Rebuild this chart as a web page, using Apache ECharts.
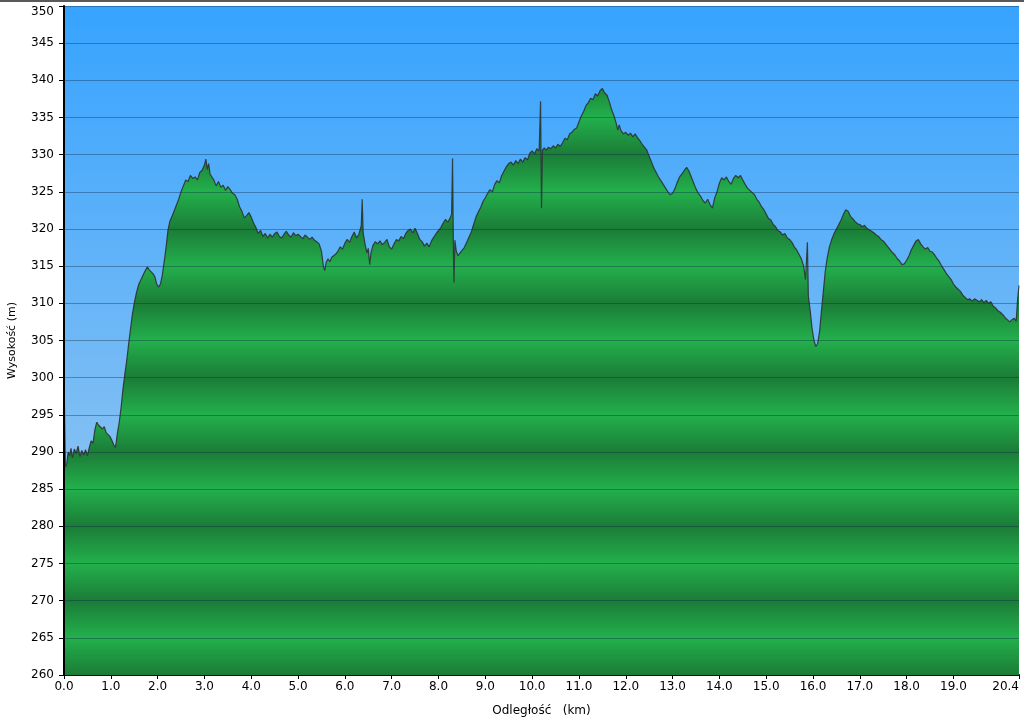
<!DOCTYPE html>
<html>
<head>
<meta charset="utf-8">
<script src="https://cdn.jsdelivr.net/npm/echarts@6/dist/echarts.min.js"></script>
<style>
html,body{margin:0;padding:0;background:#fff;}
#chart{width:1024px;height:722px;}
</style>
</head>
<body>
<div id="chart"></div>
<script>
// distance along the route (km)
const distKm = [
0.00,0.01,0.03,0.06,0.09,0.12,0.15,0.18,0.22,0.26,0.30,0.34,0.38,0.42,0.46,0.50,0.54,0.58,0.62,0.66,0.70,0.74,0.78,0.82,0.86,0.90,0.94,0.98,
1.02,1.06,1.10,1.14,1.18,1.22,1.26,1.30,1.34,1.38,1.42,1.46,1.50,1.55,1.60,1.66,1.72,1.78,1.82,1.86,1.90,1.94,1.98,
2.02,2.06,2.10,2.14,2.18,2.22,2.26,2.30,2.35,2.40,2.45,2.50,2.55,2.60,2.65,2.70,2.75,2.80,2.85,2.90,2.95,
3.00,3.03,3.06,3.09,3.12,3.16,3.20,3.25,3.30,3.35,3.40,3.45,3.50,3.55,3.60,3.65,3.70,3.75,3.80,3.85,3.90,3.95,
4.00,4.05,4.10,4.15,4.20,4.25,4.30,4.35,4.40,4.45,4.50,4.55,4.60,4.65,4.70,4.75,4.80,4.85,4.90,4.95,
5.00,5.05,5.10,5.15,5.20,5.25,5.30,5.35,5.40,5.45,5.50,5.54,5.57,5.60,5.64,5.68,5.72,5.76,5.80,5.85,5.90,5.95,
6.00,6.05,6.10,6.15,6.20,6.25,6.30,6.35,6.37,6.39,6.43,6.47,6.50,6.53,6.56,6.60,6.65,6.70,6.75,6.80,6.85,6.90,6.95,
7.00,7.05,7.10,7.15,7.20,7.25,7.30,7.35,7.40,7.45,7.50,7.55,7.60,7.65,7.70,7.75,7.80,7.85,7.90,7.95,
8.00,8.05,8.10,8.15,8.20,8.25,8.28,8.30,8.32,8.33,8.35,8.38,8.42,8.46,8.50,8.55,8.60,8.65,8.70,8.75,8.80,8.85,8.90,8.95,
9.00,9.05,9.10,9.15,9.20,9.25,9.30,9.35,9.40,9.45,9.50,9.55,9.60,9.65,9.70,9.75,9.80,9.85,9.90,9.95,
10.00,10.05,10.10,10.15,10.18,10.20,10.22,10.26,10.30,10.35,10.40,10.45,10.50,10.55,10.60,10.65,10.70,10.75,10.80,10.85,10.90,10.95,
11.00,11.05,11.10,11.15,11.20,11.25,11.30,11.35,11.40,11.45,11.50,11.55,11.60,11.65,11.70,11.75,11.80,11.83,11.86,11.90,11.95,
12.00,12.05,12.10,12.15,12.20,12.25,12.30,12.35,12.40,12.45,12.50,12.55,12.60,12.65,12.70,12.75,12.80,12.85,12.90,12.95,
13.00,13.05,13.10,13.15,13.20,13.25,13.30,13.35,13.40,13.45,13.50,13.55,13.60,13.65,13.70,13.75,13.80,13.85,13.90,13.95,
14.00,14.05,14.10,14.15,14.20,14.25,14.30,14.35,14.40,14.45,14.50,14.55,14.60,14.65,14.70,14.75,14.80,14.85,14.90,14.95,
15.00,15.05,15.10,15.15,15.20,15.25,15.30,15.35,15.40,15.45,15.50,15.55,15.60,15.65,15.70,15.75,15.80,15.84,15.88,15.90,15.94,15.98,
16.02,16.06,16.10,16.14,16.18,16.22,16.26,16.30,16.35,16.40,16.45,16.50,16.55,16.60,16.65,16.70,16.75,16.80,16.85,16.90,16.95,
17.00,17.05,17.10,17.15,17.20,17.25,17.30,17.35,17.40,17.45,17.50,17.55,17.60,17.65,17.70,17.75,17.80,17.85,17.90,17.95,
18.00,18.05,18.10,18.15,18.20,18.25,18.30,18.35,18.40,18.45,18.50,18.55,18.60,18.65,18.70,18.75,18.80,18.85,18.90,18.95,
19.00,19.05,19.10,19.15,19.20,19.25,19.30,19.35,19.40,19.45,19.50,19.55,19.60,19.65,19.70,19.75,19.80,19.85,19.90,19.95,
20.00,20.05,20.10,20.15,20.20,20.25,20.30,20.34,20.37,20.40
];
// elevation (m)
const elevM = [
303.0,296.0,288.0,288.5,290.0,289.5,290.5,289.2,290.4,289.8,290.8,289.4,290.2,289.6,290.3,289.5,290.6,291.5,291.2,293.0,294.0,293.6,293.8,293.1,293.4,292.6,292.8,292.1,
291.6,291.0,290.6,292.5,294.0,296.0,298.5,300.5,302.3,304.5,306.5,308.5,310.0,311.5,312.6,313.4,314.2,314.9,314.5,314.7,314.0,313.6,312.6,
312.2,312.6,313.8,315.6,317.5,319.8,321.0,321.6,322.4,323.2,324.0,325.0,325.8,326.6,326.4,327.2,326.8,327.0,326.6,327.6,327.9,
328.6,329.4,328.0,328.8,327.4,327.0,326.6,325.8,326.4,325.6,325.9,325.2,325.7,325.3,324.8,324.6,324.0,323.0,322.4,321.5,321.8,322.2,
321.6,320.8,320.2,319.4,319.8,319.0,319.4,318.8,319.3,318.9,319.4,319.6,319.0,318.8,319.3,319.7,319.2,318.9,319.5,319.1,
319.3,319.0,318.7,319.2,318.9,318.6,318.9,318.5,318.3,318.0,317.0,315.0,314.4,315.5,316.0,315.6,316.2,316.0,316.6,317.0,317.6,317.3,
318.1,318.6,318.2,319.0,319.6,318.8,319.3,320.5,324.0,319.5,318.0,316.8,317.4,315.2,316.9,317.8,318.3,318.0,318.4,317.9,318.2,318.6,317.6,
317.3,318.0,318.6,318.4,319.0,318.7,319.4,319.8,320.0,319.5,320.1,319.4,318.6,318.3,317.7,318.1,317.6,318.4,318.9,319.4,
319.8,320.2,320.8,321.3,320.9,321.5,322.0,329.5,316.0,312.8,318.5,317.0,316.4,316.8,317.0,317.5,318.2,318.9,319.6,320.6,321.6,322.3,322.9,323.7,
324.2,324.8,325.3,325.0,326.0,326.5,326.2,327.2,327.8,328.4,328.8,329.0,328.6,329.2,328.8,329.4,329.0,329.6,329.3,330.2,
330.5,330.1,330.8,330.5,337.2,322.8,330.6,330.9,330.6,331.0,330.8,331.2,330.9,331.4,331.1,331.6,332.2,332.0,332.8,333.0,333.4,333.6,
334.4,335.2,335.8,336.6,337.0,337.6,337.4,338.2,337.9,338.6,338.9,338.3,338.0,337.1,336.0,335.2,334.1,333.3,334.0,333.2,332.8,
333.0,332.6,332.9,332.4,332.8,332.3,331.9,331.4,331.0,330.6,329.8,329.0,328.2,327.6,327.0,326.5,326.0,325.5,325.0,324.6,
324.8,325.4,326.3,327.0,327.4,327.9,328.3,327.8,327.0,326.2,325.4,324.8,324.4,323.8,323.5,324.0,323.3,322.8,324.2,325.0,
326.2,326.9,326.6,327.0,326.4,326.0,326.8,327.2,326.9,327.2,326.6,326.0,325.5,325.2,324.9,324.6,324.0,323.6,323.0,322.6,
322.0,321.4,321.2,320.6,320.3,319.8,319.6,319.2,319.4,318.8,318.6,318.2,317.6,317.2,316.6,316.0,315.0,313.2,318.2,311.0,309.0,306.6,
305.0,304.2,304.6,306.2,309.0,311.6,314.2,316.0,317.6,318.6,319.4,320.0,320.6,321.2,322.0,322.6,322.4,321.7,321.4,321.0,320.7,
320.6,320.3,320.5,320.1,319.9,319.7,319.5,319.2,319.0,318.6,318.4,318.0,317.6,317.2,316.8,316.5,316.0,315.7,315.2,315.3,
315.8,316.4,317.2,317.8,318.4,318.6,318.0,317.6,317.3,317.5,317.0,316.9,316.5,316.0,315.6,315.0,314.5,314.0,313.6,313.2,
312.6,312.2,311.9,311.6,311.1,310.8,310.5,310.6,310.3,310.6,310.4,310.2,310.5,310.1,310.4,310.0,310.2,309.6,309.4,309.0,
308.8,308.5,308.1,307.8,307.5,307.8,308.0,307.6,310.5,312.4
];
const xTicks = [0,1,2,3,4,5,6,7,8,9,10,11,12,13,14,15,16,17,18,19,20.4];
const yMin = 260, yMax = 350, yStep = 5;
const xMax = 20.4;
const xTitle = 'Odległość   (km)';
const yTitle = 'Wysokość (m)';

const chart = echarts.init(document.getElementById('chart'), null, {renderer: 'canvas'});
const gridTop = 6, gridBottomPx = 675;

// striped green: dark at multiples of 10 m, bright in between
const stops = [];
const nBands = (yMax - yMin) / yStep;
for (let k = 0; k <= nBands; k++) {
  const v = yMax - k * yStep;
  stops.push({offset: k / nBands, color: (v % 10 === 0) ? '#1b7c37' : '#23b04c'});
}
const greenFill = new echarts.graphic.LinearGradient(0, gridTop, 0, gridBottomPx, stops, true);

const data = distKm.map((d, i) => [d, elevM[i]]);
const font = 'DejaVu Sans, Verdana, sans-serif';

chart.setOption({
  animation: false,
  backgroundColor: '#ffffff',
  grid: {
    left: 64, right: 5, top: gridTop, bottom: 722 - gridBottomPx,
    containLabel: false, outerBoundsMode: 'none',
    show: true, borderWidth: 0,
    backgroundColor: new echarts.graphic.LinearGradient(0, 0, 0, 1, [
      {offset: 0, color: '#36a3ff'},
      {offset: 0.5, color: '#6fb8f6'},
      {offset: 1, color: '#a6cdee'}
    ])
  },
  xAxis: {
    type: 'value', min: 0, max: xMax,
    name: xTitle, nameLocation: 'middle', nameGap: 30,
    nameTextStyle: {color: '#000', fontSize: 12, fontFamily: font},
    axisLine: {show: true, onZero: false, lineStyle: {color: '#000', width: 2}},
    axisTick: {show: true, length: 4, customValues: xTicks, lineStyle: {color: '#000', width: 1}},
    axisLabel: {customValues: xTicks, color: '#000', fontSize: 12, fontFamily: font, margin: 6,
      alignMaxLabel: 'right',
      formatter: v => Number(v).toFixed(1)},
    splitLine: {show: false}
  },
  yAxis: {
    type: 'value', min: yMin, max: yMax, interval: yStep, z: 5,
    name: yTitle, nameLocation: 'middle', nameGap: 46,
    nameTextStyle: {color: '#000', fontSize: 11, fontFamily: font},
    axisLine: {show: true, lineStyle: {color: '#000', width: 2}},
    axisTick: {show: true, length: 5, lineStyle: {color: '#000', width: 1}},
    axisLabel: {color: '#000', fontSize: 12, fontFamily: font, margin: 10,
      verticalAlignMaxLabel: 'top'},
    splitLine: {show: true, lineStyle: {color: 'rgba(10,40,70,0.38)', width: 1}}
  },
  series: [{
    type: 'line', data: data, showSymbol: false, symbol: 'none', z: 2,
    lineStyle: {color: '#2b2b2b', width: 1.2, opacity: 0.85},
    areaStyle: {color: greenFill, opacity: 1, origin: 'start'}
  }],
  graphic: [{
    type: 'line', shape: {x1: 0, y1: 1, x2: 1024, y2: 1},
    style: {stroke: '#222', lineWidth: 1.5}, z: 100
  }]
});
</script>
</body>
</html>
